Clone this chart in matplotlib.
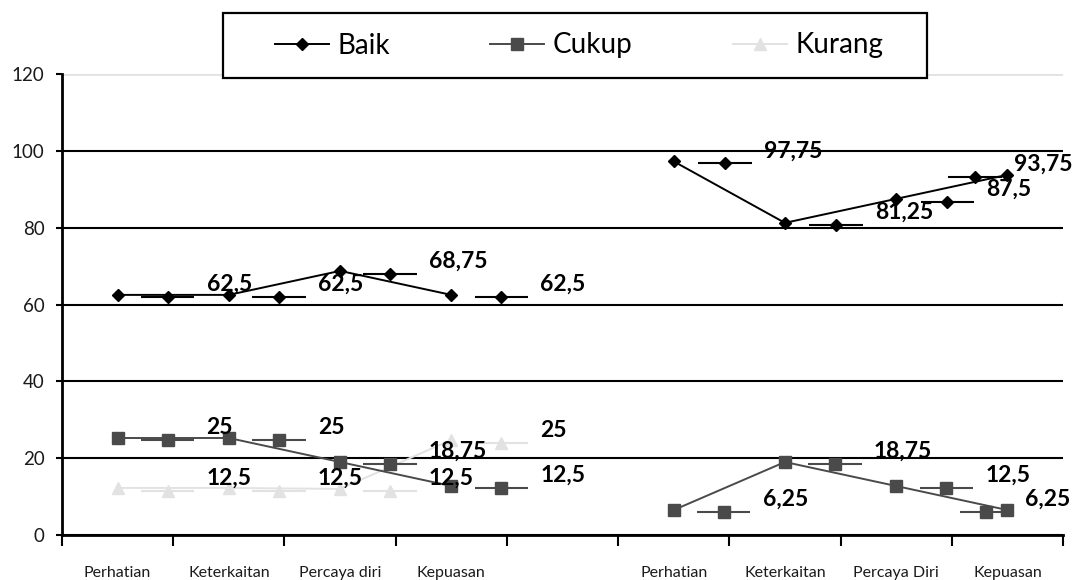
import numpy as np
import matplotlib
matplotlib.use("Agg")
import matplotlib.pyplot as plt
from matplotlib.patches import Rectangle

plt.rcParams['font.family'] = ['Lato', 'DejaVu Sans']

nan = np.nan

# categories (the 5th slot is an empty gap between the two groups)
categories = ["Perhatian", "Keterkaitan", "Percaya diri", "Kepuasan", "",
              "Perhatian", "Keterkaitan", "Percaya Diri", "Kepuasan"]

# line series, read at the category centres
baik = [62.5, 62.5, 68.75, 62.5, nan, 97.25, 81.25, 87.5, 93.75]
cukup = [25.25, 25.25, 19.0, 12.75, nan, 6.5, 19.0, 12.75, 6.5]
kurang = [12.25, 12.25, 12.0, 24.75, nan, nan, nan, nan, nan]

# second copy of each series: shifted points with a horizontal bar
baik_b = [62.0, 62.0, 68.0, 62.0, nan, 96.75, 80.75, 86.75, 93.25]
baik_bx = [0.45, 1.45, 2.45, 3.45, nan, 5.46, 6.46, 7.46, 7.71]
cukup_b = [24.75, 24.75, 18.5, 12.25, nan, 6.0, 18.5, 12.25, 6.0]
cukup_bx = [0.45, 1.45, 2.45, 3.45, nan, 5.45, 6.45, 7.45, 7.81]
kurang_b = [11.5, 11.5, 11.5, 24.0, nan, nan, nan, nan, nan]
kurang_bx = [0.45, 1.45, 2.45, 3.45, nan, nan, nan, nan, nan]
bar_half = 0.24

# data labels
baik_lbl = ["62,5", "62,5", "68,75", "62,5", "", "97,75", "81,25", "87,5", "93,75"]
cukup_lbl = ["25", "25", "18,75", "12,5", "", "6,25", "18,75", "12,5", "6,25"]
kurang_lbl = ["12,5", "12,5", "12,5", "25", "", "", "", "", ""]

series = [
    ("Baik", baik, baik_b, baik_bx, baik_lbl, "black", "D", 6),
    ("Cukup", cukup, cukup_b, cukup_bx, cukup_lbl, "#4a4a4a", "s", 8.5),
    ("Kurang", kurang, kurang_b, kurang_bx, kurang_lbl, "#e2e2e2", "^", 8.5),
]

fig = plt.figure(figsize=(10.74, 5.8), dpi=100)
ax = fig.add_axes([62 / 1074, 1 - 535 / 580, (1063 - 62) / 1074, (535 - 74) / 580])

x = np.arange(len(categories))
handles = []
for k, (name, vals, bvals, bx, lbls, col, mk, ms) in enumerate(series):
    z = 5 - k
    h, = ax.plot(x, vals, color=col, lw=1.4, marker=mk, ms=ms,
                 mfc=col, mec=col, label=name, zorder=z)
    handles.append(h)
    ax.errorbar(bx, bvals, xerr=bar_half, fmt=mk, ms=ms, color=col,
                mfc=col, mec=col, elinewidth=1.5, capsize=0, zorder=z)
    for xi, yi, t in zip(bx, bvals, lbls):
        if t == "" or np.isnan(yi):
            continue
        ax.annotate(t, (xi, yi), xytext=(28, 9), textcoords='offset points',
                    ha='left', va='center', fontsize=16.5, fontweight='bold',
                    color='black', zorder=10)

ax.set_xlim(-0.5, len(categories) - 0.5)
ax.set_ylim(0, 120)
ax.set_yticks(np.arange(0, 121, 20))
ax.set_xticks(np.arange(-0.5, len(categories), 1.0))
ax.set_xticklabels([])
ax.set_xticks(x, minor=True)
ax.set_xticklabels(categories, minor=True, fontsize=11.5, color='#1a1a1a')
ax.tick_params(axis='x', which='major', length=8, width=1.5, direction='out')
ax.tick_params(axis='x', which='minor', length=0, pad=22)
ax.tick_params(axis='y', length=4.5, width=1.5, direction='out', pad=8,
               labelsize=13.5, labelcolor='#1a1a1a')

ax.yaxis.grid(True, color='black', lw=1.5)
ax.set_axisbelow(True)
gl = ax.get_ygridlines()
gl[-1].set_color('#e2e2e2')
gl[-1].set_linewidth(2)

for s in ['top', 'right']:
    ax.spines[s].set_visible(False)
for s in ['left', 'bottom']:
    ax.spines[s].set_linewidth(2)

# legend box
box = Rectangle((223 / 1074, 1 - 78 / 580), (927 - 223) / 1074, 65 / 580,
                transform=fig.transFigure, facecolor='white', edgecolor='black',
                lw=1.6, zorder=4)
fig.add_artist(box)
fig.legend(handles=handles, loc='center', bbox_to_anchor=(579 / 1074, 1 - 45.5 / 580),
           bbox_transform=fig.transFigure, ncol=3, frameon=False, fontsize=20,
           handlelength=1.94, handletextpad=0.32, columnspacing=3.6)

fig.savefig("out.png", dpi=100)
